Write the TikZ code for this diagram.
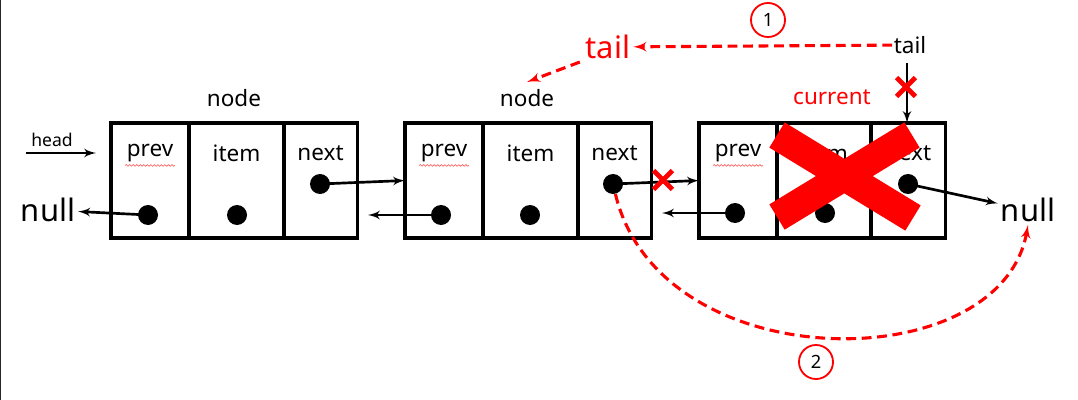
\documentclass[tikz,border=0pt]{standalone}
\usepackage{fontspec}
\setmainfont{Noto Sans}
\usepackage{xcolor}
\usepackage{tikz}
\usetikzlibrary{arrows, positioning, calc, shapes.misc, decorations.pathmorphing}
\tikzstyle{cell} = [rectangle, draw=black, line width=2.2pt, outer sep=0pt, minimum height=2.875cm]
\tikzstyle{field} = [font=\fontsize{16}{19}\selectfont, inner sep=1pt]
\tikzstyle{dot} = [circle, fill=black, minimum size=0.5cm, inner sep=0pt]
\tikzstyle{big} = [font=\fontsize{22}{26}\selectfont, inner sep=2pt]
\tikzstyle{line} = [draw, -latex', line width=1.9pt]
\tikzstyle{redline} = [draw=red, dash pattern=on 7pt off 4pt, line width=2.2pt, -latex']
\tikzstyle{xmark} = [cross out, draw=red, line width=3.5pt, minimum size=0.35cm, inner sep=0pt]
\tikzstyle{numc} = [circle, draw=red, line width=1.3pt, minimum size=0.85cm, inner sep=0pt, font=\fontsize{13}{15}\selectfont]
\tikzstyle{squiggle} = [draw=red!70, line width=0.4pt, decorate, decoration={snake, amplitude=0.6pt, segment length=2.5pt}]

\begin{document}
\begin{tikzpicture}[x=0.025cm, y=-0.025cm]
    \useasboundingbox (0,0) rectangle (1078,400);
    \draw[black!85, line width=1pt] (0.5,0) -- (0.5,400);

    % Nodes
    \node [cell, minimum width=1.95cm] (b1prev) at (150,180.5) {};
    \node [cell, minimum width=2.375cm, right=0pt of b1prev] (b1item) {};
    \node [cell, minimum width=1.825cm, right=0pt of b1item] (b1next) {};
    \node [cell, minimum width=1.95cm] (b2prev) at (444,180.5) {};
    \node [cell, minimum width=2.375cm, right=0pt of b2prev] (b2item) {};
    \node [cell, minimum width=1.825cm, right=0pt of b2item] (b2next) {};
    \node [cell, minimum width=1.95cm] (b3prev) at (738,180.5) {};
    \node [cell, minimum width=2.35cm, right=0pt of b3prev] (b3item) {};
    \node [cell, minimum width=1.85cm, right=0pt of b3item] (b3next) {};

    \node [field] (t1prev) at ($(b1prev)+(0,-27)$) {prev};
    \node [field] (t1item) at ($(b1item)+(0,-27)$) {item};
    \node [field] (t1next) at ($(b1next)+(0,-27)$) {next};
    \node [field] (t2prev) at ($(b2prev)+(0,-27)$) {prev};
    \node [field] (t2item) at ($(b2item)+(0,-27)$) {item};
    \node [field] (t2next) at ($(b2next)+(0,-27)$) {next};
    \node [field] (t3prev) at ($(b3prev)+(0,-27)$) {prev};
    \node [field] (t3item) at ($(b3item)+(0,-27)$) {item};
    \node [field] (t3next) at ($(b3next)+(0,-27)$) {next};
    \path [squiggle] ([yshift=-1pt]t1prev.south west) -- ([yshift=-1pt]t1prev.south east);
    \path [squiggle] ([yshift=-1pt]t2prev.south west) -- ([yshift=-1pt]t2prev.south east);
    \path [squiggle] ([yshift=-1pt]t3prev.south west) -- ([yshift=-1pt]t3prev.south east);

    \node [dot] (d1prev) at (148,215) {};
    \node [dot] (d1item) at (237,215) {};
    \node [dot] (d1next) at (320,184) {};
    \node [dot] (d2prev) at (441,215) {};
    \node [dot] (d2item) at (530,215) {};
    \node [dot] (d2next) at (613,184) {};
    \node [dot] (d3prev) at (735,213) {};
    \node [dot] (d3item) at (825,213) {};
    \node [dot] (d3next) at (908,184) {};

    \node [field] (lbl1) at (234,98) {node};
    \node [field] (lbl2) at (527,98) {node};
    \node [field, text=red] (cur) at (832,97) {current};
    \node [big] (null1) at (48,210) {null};
    \node [big] (null2) at (1028,210) {null};
    \node [font=\fontsize{12.5}{15}\selectfont] (head) at (52,140) {head};
    \coordinate (hs) at (26,153);
    \coordinate (he) at (96,153);
    \node [field] (tail2) at (910,45) {tail};
    \node [big, text=red] (tail1) at (608,47) {tail};
    \node [numc] (n1) at (768,20) {1};
    \node [numc] (n2) at (816,362) {2};
    \coordinate (back1) at (368,215);
    \coordinate (back2) at (662,213);
    \coordinate (tailtop) at (907,63);

    % Edges
    \path [line] (hs) -- (he);
    \path [line] (d1prev.center) -- (null1);
    \path [line] (d1next.center) -- (b2prev.west);
    \path [line] (d2prev.center) -- (back1);
    \path [line] (d2next.center) -- (b3prev.west);
    \path [line] (d3prev.center) -- (back2);
    \path [line] (d3next.center) -- (null2);
    \path [line] (tailtop) -- (tailtop |- b3next.north);
    \path [redline] (tail2) -- (tail1);
    \path [redline] ([xshift=-2pt]tail1.south west) -- ([yshift=4pt]lbl2.north);
    \path [redline] (d2next) .. controls (660,380) and (1000,380) .. (null2.south);

    % Crosses
    \node [xmark] (x1) at (663,180) {};
    \node [xmark] (x2) at (906,87) {};
    \draw [red, line width=21pt] (777,135) -- (913,218) (912,135) -- (777,217);
\end{tikzpicture}
\end{document}
